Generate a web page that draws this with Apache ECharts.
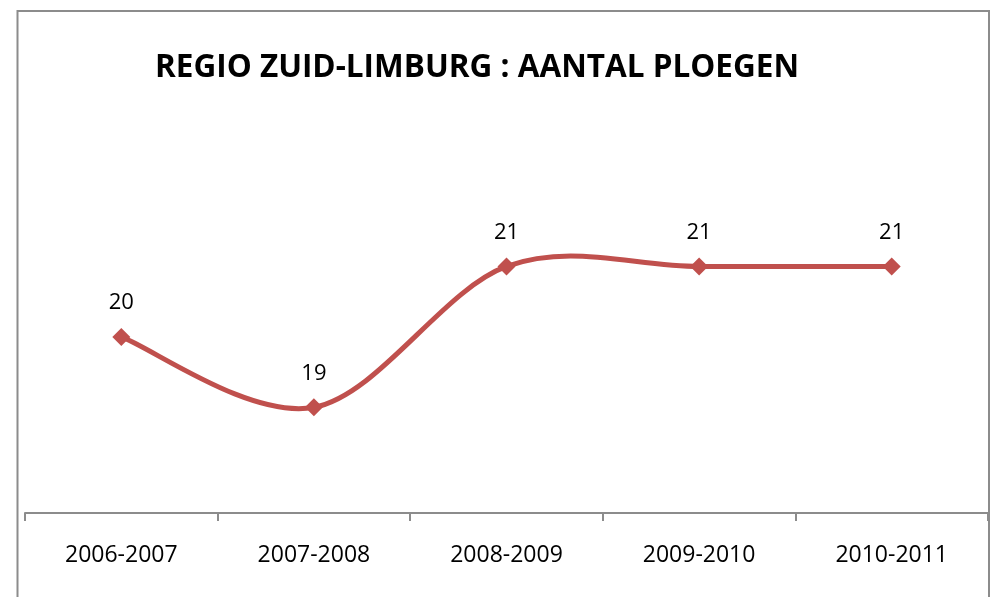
<!DOCTYPE html>
<html>
<head>
<meta charset="utf-8">
<script src="https://cdn.jsdelivr.net/npm/echarts@6/dist/echarts.min.js"></script>
<style>
  html, body { margin: 0; padding: 0; background: #fff; }
  #chart { width: 994px; height: 597px; }
</style>
</head>
<body>
<div id="chart"></div>
<script>
const seasons = ['2006-2007', '2007-2008', '2008-2009', '2009-2010', '2010-2011']
const ploegen = [20, 19, 21, 21, 21]
const titleText = 'REGIO ZUID-LIMBURG : AANTAL PLOEGEN'

const lineColor = '#C0504D'

const chart = echarts.init(document.getElementById('chart'))

// excel-like smoothed segment (catmull-rom) from point i to i+1
function renderSegment (params, api) {
  const i = params.dataIndex
  if (i >= ploegen.length - 1) return null
  const pt = (k) => {
    const j = Math.max(0, Math.min(ploegen.length - 1, k))
    return api.coord([j, ploegen[j]])
  }
  const p0 = pt(i - 1), p1 = pt(i), p2 = pt(i + 1), p3 = pt(i + 2)
  const c1 = [p1[0] + (p2[0] - p0[0]) / 6, p1[1] + (p2[1] - p0[1]) / 6]
  const c2 = [p2[0] - (p3[0] - p1[0]) / 6, p2[1] - (p3[1] - p1[1]) / 6]
  return {
    type: 'bezierCurve',
    shape: { x1: p1[0], y1: p1[1], x2: p2[0], y2: p2[1], cpx1: c1[0], cpy1: c1[1], cpx2: c2[0], cpy2: c2[1] },
    style: { fill: null, stroke: lineColor, lineWidth: 5, lineCap: 'round' }
  }
}

const option = {
  backgroundColor: '#fff',
  animation: false,
  title: {
    text: titleText,
    left: 472,
    top: 47,
    textAlign: 'center',
    textStyle: {
      fontFamily: 'Open Sans',
      fontWeight: 'bold',
      fontSize: 31.5,
      color: '#000'
    }
  },
  graphic: [{
    type: 'rect',
    shape: { x: 17.5, y: 11, width: 971.5, height: 600 },
    style: { fill: 'none', stroke: '#8c8c8c', lineWidth: 2 },
    silent: true
  }],
  grid: { left: 25, right: 6, top: 196, bottom: 84 },
  xAxis: {
    type: 'category',
    data: seasons,
    boundaryGap: true,
    axisLine: { lineStyle: { color: '#8c8c8c', width: 2 } },
    axisTick: { show: true, length: 8, lineStyle: { color: '#8c8c8c', width: 2 } },
    axisLabel: {
      color: '#000',
      fontFamily: 'Open Sans',
      fontSize: 23,
      margin: 31
    }
  },
  yAxis: {
    type: 'value',
    min: 17.5,
    max: 22,
    show: false,
    splitLine: { show: false }
  },
  series: [{
    type: 'custom',
    data: ploegen.map((v, i) => [i, v]),
    renderItem: renderSegment,
    silent: true,
    z: 1
  }, {
    type: 'line',
    data: ploegen,
    symbol: 'diamond',
    symbolSize: 18,
    lineStyle: { width: 0, opacity: 0 },
    itemStyle: { color: lineColor },
    z: 3,
    label: {
      show: true,
      position: 'top',
      distance: 14,
      color: '#000',
      fontFamily: 'Open Sans',
      fontSize: 22
    }
  }]
}

chart.setOption(option)
</script>
</body>
</html>
